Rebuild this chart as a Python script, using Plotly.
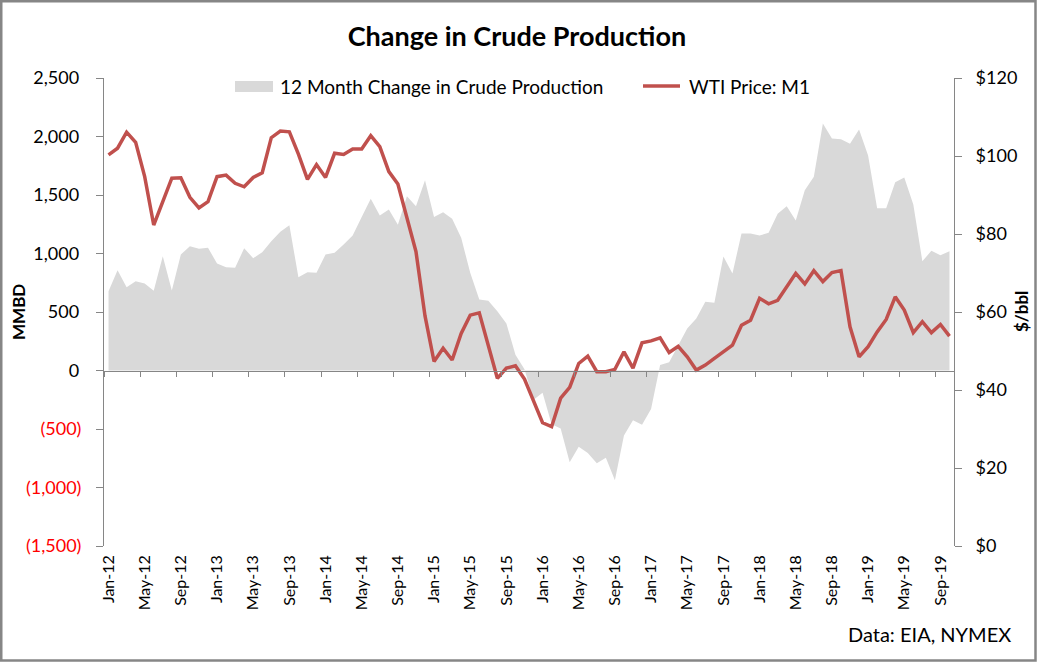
import plotly.graph_objects as go

# ---- data ----
month_names = ["Jan", "Feb", "Mar", "Apr", "May", "Jun", "Jul", "Aug", "Sep", "Oct", "Nov", "Dec"]
years = [12, 13, 14, 15, 16, 17, 18, 19]
months = [f"{m}-{y}" for y in years for m in month_names][:94]  # Jan-12 .. Oct-19

# 12 month change in crude production (MMBD, thousand b/d)
prod_change = [678, 857, 712, 763, 744, 681, 977, 684, 991, 1062, 1040, 1049,
               915, 883, 878, 1045, 960, 1011, 1105, 1185, 1242, 797, 840, 835,
               991, 1006, 1077, 1154, 1313, 1467, 1325, 1376, 1245, 1490, 1404, 1627,
               1313, 1353, 1296, 1134, 835, 607, 596, 507, 402, 135, 10, -250,
               -190, -460, -495, -784, -652, -705, -792, -745, -938, -556, -426, -463,
               -328, 48, 71, 220, 360, 445, 588, 578, 975, 829, 1171, 1171,
               1154, 1177, 1339, 1404, 1282, 1541, 1655, 2111, 1983, 1977, 1937, 2060,
               1838, 1387, 1387, 1610, 1650, 1419, 934, 1023, 986, 1020]

# WTI front month price ($/bbl)
wti_price = [100.3, 102.0, 106.1, 103.5, 94.7, 82.3, 88.3, 94.3, 94.4, 89.4, 86.7, 88.3,
             94.7, 95.1, 93.0, 92.1, 94.5, 95.7, 104.7, 106.4, 106.2, 100.5, 94.0, 97.8,
             94.5, 100.7, 100.4, 101.8, 101.8, 105.2, 102.4, 96.0, 92.8, 84.4, 75.5, 59.0,
             47.3, 50.7, 47.7, 54.5, 59.2, 59.8, 51.1, 43.0, 45.6, 46.2, 42.8, 37.3,
             31.6, 30.6, 37.9, 40.7, 46.8, 48.7, 44.7, 44.7, 45.3, 49.8, 45.6, 52.1,
             52.6, 53.4, 49.6, 51.2, 48.5, 45.1, 46.4, 48.1, 49.8, 51.5, 56.6, 57.9,
             63.5, 62.1, 63.0, 66.5, 69.9, 67.2, 70.6, 67.8, 70.1, 70.6, 56.2, 48.5,
             51.1, 54.9, 58.1, 63.9, 60.5, 54.7, 57.5, 54.7, 56.8, 53.8]

series_names = ["12 Month Change in Crude Production", "WTI Price: M1"]
left_ticks = [2500, 2000, 1500, 1000, 500, 0, -500, -1000, -1500]
right_ticks = [0, 20, 40, 60, 80, 100, 120]

FONT = "Lato"
AXIS_GRAY = "#868686"
RED = "#c0504d"
AREA = "#d9d9d9"

W, H = 1037, 662
L, R, T, B = 104, 83, 78, 116
PW, PH = W - L - R, H - T - B


def px_x(p):
    return (p - L) / PW


def px_y(p):
    return (H - B - p) / PH


def fmt_left(v):
    if v < 0:
        return f'<span style="color:#ff0000">({abs(v):,})</span>'
    return f"{v:,}\u2009"


n = len(months)
fig = go.Figure()

fig.add_trace(go.Scatter(
    x=months, y=prod_change, name=series_names[0],
    mode="lines", fill="tozeroy", fillcolor=AREA,
    line=dict(width=0, color=AREA), yaxis="y", xaxis="x", showlegend=False))

fig.add_trace(go.Scatter(
    x=months, y=wti_price, name=series_names[1],
    mode="lines", line=dict(color=RED, width=3.5), yaxis="y2", xaxis="x", showlegend=False))

# dummy trace so the zero-line tick axis is drawn
fig.add_trace(go.Scatter(x=[-0.5, n - 0.5], y=[None, None], xaxis="x2", yaxis="y",
                         showlegend=False, hoverinfo="skip", mode="lines"))

fig.update_layout(
    width=W, height=H,
    margin=dict(l=L, r=R, t=T, b=B),
    paper_bgcolor="white", plot_bgcolor="white",
    font=dict(family=FONT, size=16, color="black"),
    title=dict(text="<b>Change in Crude Production</b>", x=0.4985, xanchor="center",
               y=1 - 37 / H, yanchor="middle", font=dict(size=27, family=FONT)),
    showlegend=False,
    xaxis=dict(type="category", range=[-0.5, n - 0.5], tickmode="array",
               tickvals=months[::4], ticktext=months[::4], tickangle=-90,
               ticks="", showline=False, showgrid=False, zeroline=False,
               ticklabelstandoff=5, tickfont=dict(size=16)),
    xaxis2=dict(overlaying="x", anchor="free", position=1500 / 4000, range=[-0.5, n - 0.5],
                tickmode="linear", tick0=-0.5, dtick=4, ticks="outside", ticklen=5,
                tickcolor=AXIS_GRAY, showticklabels=False, showline=True,
                linecolor=AXIS_GRAY, linewidth=1, showgrid=False, zeroline=False),
    yaxis=dict(range=[-1500, 2500], tickmode="array", tickvals=left_ticks,
               ticktext=[fmt_left(v) for v in left_ticks], ticks="outside", ticklen=7,
               tickcolor=AXIS_GRAY, showline=True, linecolor=AXIS_GRAY, linewidth=1,
               showgrid=False, zeroline=False, ticklabelstandoff=11, tickfont=dict(size=18)),
    yaxis2=dict(range=[0, 120], overlaying="y", side="right", tickmode="array",
                tickvals=right_ticks, ticktext=[f"${v}" for v in right_ticks],
                ticks="outside", ticklen=7, tickcolor=AXIS_GRAY, showline=True,
                linecolor=AXIS_GRAY, linewidth=1, showgrid=False, zeroline=False,
                ticklabelstandoff=10, tickfont=dict(size=18)),
)

# legend drawn manually to match placement
fig.add_shape(type="rect", xref="paper", yref="paper",
              x0=px_x(235), x1=px_x(273), y0=px_y(92), y1=px_y(81),
              line=dict(width=0), fillcolor=AREA)
fig.add_annotation(text=series_names[0], x=px_x(278), y=px_y(86), xref="paper", yref="paper",
                   xanchor="left", yanchor="middle", showarrow=False, font=dict(size=19))
fig.add_shape(type="line", xref="paper", yref="paper",
              x0=px_x(643), x1=px_x(680), y0=px_y(86), y1=px_y(86),
              line=dict(color=RED, width=3.5))
fig.add_annotation(text=series_names[1], x=px_x(687), y=px_y(86), xref="paper", yref="paper",
                   xanchor="left", yanchor="middle", showarrow=False, font=dict(size=19))

fig.add_annotation(text="<b>MMBD</b>", x=px_x(18), y=px_y(312), xref="paper", yref="paper",
                   xanchor="center", yanchor="middle",
                   textangle=-90, showarrow=False, font=dict(size=17))
fig.add_annotation(text="<b>$/bbl</b>", x=px_x(1021), y=px_y(312), xref="paper", yref="paper",
                   xanchor="center", yanchor="middle",
                   textangle=-90, showarrow=False, font=dict(size=17))
fig.add_annotation(text="Data: EIA, NYMEX", x=px_x(929), y=px_y(634),
                   xanchor="center", yanchor="middle",
                   xref="paper", yref="paper", showarrow=False, font=dict(size=20))

fig.add_shape(type="rect", xref="paper", yref="paper",
              x0=px_x(1.25), x1=px_x(1035.5), y0=px_y(660.5), y1=px_y(1.25),
              line=dict(color=AXIS_GRAY, width=2.5), fillcolor="rgba(0,0,0,0)", layer="above")

fig.write_html("out.html", config={"displayModeBar": False},
               post_script="document.body.style.margin='0px';")
